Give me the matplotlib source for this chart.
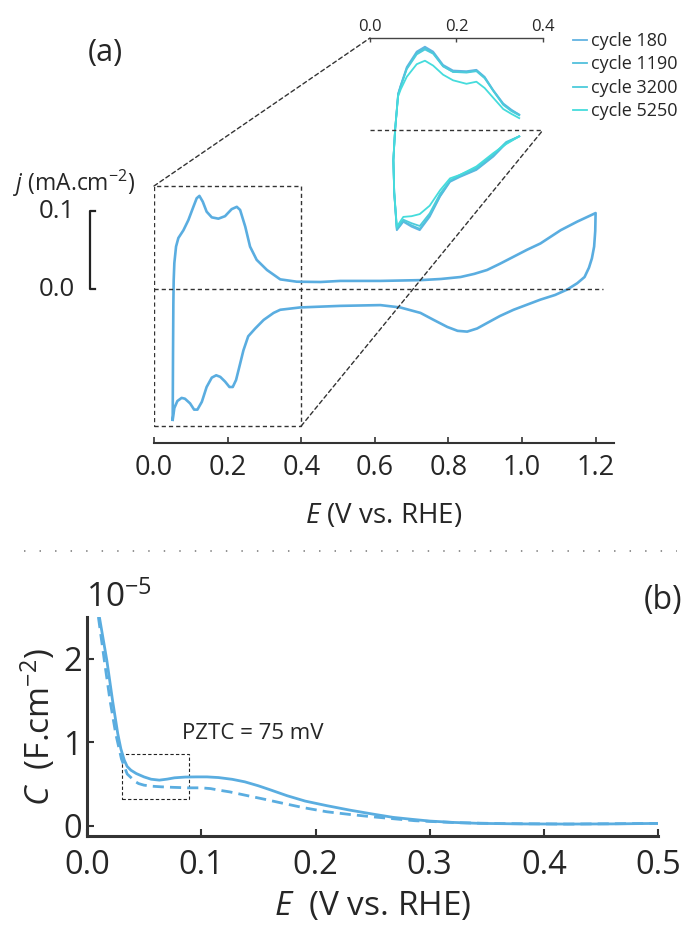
import matplotlib
matplotlib.use('Agg')
import matplotlib.pyplot as plt
from matplotlib.lines import Line2D
from matplotlib.patches import Rectangle, ConnectionPatch

plt.rcParams['font.family'] = ['Open Sans', 'DejaVu Sans']
plt.rcParams['mathtext.fontset'] = 'custom'
plt.rcParams['mathtext.rm'] = 'Open Sans'
plt.rcParams['mathtext.it'] = 'Open Sans:italic'
plt.rcParams['axes.unicode_minus'] = False

TXT = '#262626'
BLUE = '#5aade0'

# --- (a) CV, anodic sweep (V vs. RHE, mA cm^-2)
E_anodic = [0.0508, 0.0517, 0.0526, 0.0535, 0.0553, 0.0599, 0.0662, 0.080, 0.0934, 0.107,
            0.116, 0.1234, 0.1325, 0.143, 0.157, 0.175, 0.193, 0.211, 0.225, 0.234,
            0.248, 0.261, 0.279, 0.307, 0.343, 0.388, 0.452, 0.506, 0.615, 0.724,
            0.78, 0.833, 0.87, 0.905, 0.94, 0.977, 1.014, 1.05, 1.105, 1.15, 1.2]
j_anodic = [-0.167, -0.082, -0.018, 0.012, 0.034, 0.055, 0.066, 0.076, 0.089, 0.106,
            0.117, 0.120, 0.1126, 0.0998, 0.0925, 0.0908, 0.094, 0.103, 0.106, 0.102,
            0.0805, 0.055, 0.038, 0.025, 0.013, 0.010, 0.0096, 0.011, 0.011, 0.012,
            0.0135, 0.016, 0.020, 0.025, 0.033, 0.042, 0.051, 0.059, 0.076, 0.087, 0.098]
# cathodic sweep back down
E_cathodic = [1.199, 1.196, 1.19, 1.182, 1.17, 1.15, 1.123, 1.09, 1.05, 0.977,
              0.94, 0.905, 0.878, 0.851, 0.825, 0.797, 0.76, 0.724, 0.669, 0.615,
              0.506, 0.397, 0.343, 0.325, 0.298, 0.275, 0.256, 0.243, 0.232, 0.223,
              0.214, 0.205, 0.193, 0.180, 0.169, 0.157, 0.143, 0.130, 0.118, 0.109,
              0.098, 0.084, 0.075, 0.0635, 0.0553, 0.0508]
j_cathodic = [0.075, 0.055, 0.040, 0.028, 0.016, 0.008, 0.0, -0.007, -0.013, -0.026,
              -0.034, -0.043, -0.050, -0.054, -0.053, -0.048, -0.039, -0.030, -0.023, -0.020,
              -0.021, -0.023, -0.026, -0.030, -0.039, -0.050, -0.060, -0.078, -0.099, -0.116,
              -0.125, -0.125, -0.118, -0.112, -0.110, -0.113, -0.125, -0.144, -0.154, -0.154,
              -0.146, -0.140, -0.139, -0.143, -0.152, -0.167]

# --- inset: H_upd region for several cycles
cycle_labels = ['cycle 180', 'cycle 1190', 'cycle 3200', 'cycle 5250']
cycle_colors = ['#62b3e2', '#52c0dc', '#4ccbdb', '#45dcdc']
E_in_cath = [0.345, 0.315, 0.285, 0.246, 0.208, 0.185, 0.162, 0.138, 0.115, 0.096, 0.077, 0.062]
E_in_an = [0.062, 0.056, 0.054, 0.058, 0.065, 0.071, 0.085, 0.108, 0.127, 0.146,
           0.169, 0.192, 0.223, 0.246, 0.265, 0.285, 0.308, 0.327, 0.345]
j_in_cath = [
    [-0.009, -0.019, -0.038, -0.057, -0.067, -0.074, -0.095, -0.124, -0.143, -0.138, -0.131, -0.143],
    [-0.009, -0.018, -0.037, -0.056, -0.066, -0.073, -0.094, -0.122, -0.141, -0.136, -0.130, -0.142],
    [-0.009, -0.017, -0.035, -0.054, -0.064, -0.072, -0.091, -0.119, -0.137, -0.133, -0.128, -0.140],
    [-0.009, -0.020, -0.033, -0.052, -0.064, -0.069, -0.086, -0.108, -0.120, -0.123, -0.124, -0.138],
]
j_in_an = [
    [-0.143, -0.090, -0.043, 0.0, 0.052, 0.064, 0.090, 0.112, 0.119, 0.112,
     0.093, 0.085, 0.084, 0.086, 0.076, 0.057, 0.038, 0.029, 0.022],
    [-0.142, -0.090, -0.043, 0.0, 0.051, 0.063, 0.088, 0.110, 0.117, 0.110,
     0.091, 0.083, 0.083, 0.085, 0.075, 0.056, 0.037, 0.028, 0.022],
    [-0.140, -0.089, -0.043, 0.0, 0.050, 0.062, 0.087, 0.108, 0.115, 0.109,
     0.091, 0.083, 0.082, 0.084, 0.074, 0.056, 0.036, 0.027, 0.021],
    [-0.138, -0.088, -0.043, 0.0, 0.048, 0.058, 0.076, 0.094, 0.099, 0.092,
     0.079, 0.071, 0.066, 0.069, 0.060, 0.046, 0.030, 0.023, 0.017],
]

# --- (b) double-layer capacitance (units of 1e-5 F cm^-2)
E_cap = [0.0107, 0.0172, 0.0222, 0.0268, 0.0295, 0.0325, 0.035, 0.0383, 0.043, 0.0497,
         0.056, 0.0632, 0.070, 0.0765, 0.086, 0.0956, 0.105, 0.115, 0.127, 0.138,
         0.150, 0.161, 0.175, 0.191, 0.210, 0.2296, 0.250, 0.268, 0.285, 0.300,
         0.320, 0.344, 0.380, 0.421, 0.460, 0.501]
C_cap = [2.497, 1.98, 1.50, 1.10, 0.92, 0.785, 0.71, 0.665, 0.625, 0.585,
         0.557, 0.546, 0.558, 0.574, 0.583, 0.585, 0.585, 0.577, 0.556, 0.526,
         0.478, 0.427, 0.36, 0.295, 0.24, 0.188, 0.14, 0.10, 0.076, 0.056,
         0.04, 0.028, 0.022, 0.020, 0.022, 0.028]
E_cap2 = [0.0098, 0.0150, 0.0200, 0.0250, 0.0300, 0.0350, 0.0420, 0.045, 0.0497, 0.057,
          0.065, 0.075, 0.088, 0.0995, 0.108, 0.115, 0.125, 0.138, 0.155, 0.172,
          0.190, 0.210, 0.230, 0.249, 0.287, 0.325, 0.36, 0.421, 0.501]
C_cap2 = [2.5, 1.98, 1.50, 1.10, 0.80, 0.62, 0.53, 0.505, 0.486, 0.473,
          0.466, 0.46, 0.454, 0.454, 0.445, 0.427, 0.405, 0.367, 0.318, 0.267,
          0.215, 0.167, 0.135, 0.108, 0.06, 0.036, 0.026, 0.020, 0.028]
PZTC_BOX = (0.0306, 0.0888, 0.319, 0.857)

W, H = 683, 931
fig = plt.figure(figsize=(W / 100, H / 100), dpi=100)


def rect(left, top, right, bottom):
    return [left / W, 1 - bottom / H, (right - left) / W, (bottom - top) / H]


# ---------------- panel (a)
ax = fig.add_axes(rect(154, 170, 614, 443))
ax.plot(E_anodic + E_cathodic, j_anodic + j_cathodic, color=BLUE, lw=1.9,
        solid_joinstyle='round')
ax.set_xlim(0, 1.25)
ax.set_ylim(-0.1968, 0.1532)
for s in ['left', 'right', 'top']:
    ax.spines[s].set_visible(False)
ax.spines['bottom'].set_linewidth(1.5)
ax.spines['bottom'].set_color('#333333')
ax.set_yticks([])
ax.set_xticks([0.0, 0.2, 0.4, 0.6, 0.8, 1.0, 1.2])
ax.set_xticklabels(['0.0', '0.2', '0.4', '0.6', '0.8', '1.0', '1.2'])
ax.tick_params(axis='x', direction='in', length=4, width=1.2, color='#333333',
               labelsize=19.5, labelcolor=TXT, pad=8)
ax.set_xlabel(r'$E$ (V vs. RHE)', fontsize=20, color=TXT, labelpad=14)

dash = (0, (3, 2.2))
ax.axhline(0, xmin=0, xmax=1.22 / 1.25, color='#333333', lw=1, ls=dash)
ax.add_patch(Rectangle((0, -0.175), 0.4, 0.3077, fill=False, ec='#333333', lw=1, ls=dash))

# scale bar in place of a y axis
ax.plot([-0.160, -0.174, -0.174, -0.160], [0.1, 0.1, 0.0, 0.0], color='#222222', lw=1.6,
        clip_on=False)
ax.text(-0.265, 0.1, '0.1', fontsize=18.5, color=TXT, ha='center', va='center')
ax.text(-0.265, 0.0, '0.0', fontsize=18.5, color=TXT, ha='center', va='center')
fig.text(13 / W, 1 - 183 / H, r'$j$ (mA.cm$^{-2}$)', fontsize=16.5, color=TXT,
         ha='left', va='center')
fig.text(105 / W, 1 - 53 / H, '(a)', fontsize=22, color=TXT, ha='center', va='center')

# inset
axin = fig.add_axes(rect(370, 38, 543, 240))
for k in range(4):
    axin.plot(E_in_cath + E_in_an, j_in_cath[k] + j_in_an[k], color=cycle_colors[k], lw=1.3,
              label=cycle_labels[k])
axin.set_xlim(0, 0.4)
axin.set_ylim(-0.157, 0.1314)
axin.patch.set_visible(False)
for s in ['left', 'right', 'bottom']:
    axin.spines[s].set_visible(False)
axin.spines['top'].set_linewidth(1.0)
axin.spines['top'].set_color('#444444')
axin.set_yticks([])
axin.set_xticks([0.0, 0.2, 0.4])
axin.set_xticklabels(['0.0', '0.2', '0.4'])
axin.xaxis.tick_top()
axin.tick_params(axis='x', direction='in', length=3, width=1, color='#444444',
                 labelsize=12, labelcolor=TXT, pad=2)
axin.axhline(0, color='#333333', lw=1, ls=dash)

for xyA, xyB in [((0, 0.1327), (0, 0.1314)), ((0.4, -0.175), (0.4, 0.0))]:
    con = ConnectionPatch(xyA=xyA, coordsA=ax.transData, xyB=xyB, coordsB=axin.transData,
                          color='#333333', lw=1, ls=dash)
    fig.add_artist(con)

fig.legend(*axin.get_legend_handles_labels(), loc='upper left',
           bbox_to_anchor=(573 / W, 1 - 32 / H), frameon=False, fontsize=13,
           handlelength=0.75, handletextpad=0.25, labelspacing=0.3, borderpad=0,
           borderaxespad=0, labelcolor=TXT)

# separator between panels
fig.add_artist(Line2D([24 / W, 677 / W], [1 - 551 / H, 1 - 551 / H], transform=fig.transFigure,
                      color='#8a8a8a', lw=1.3, ls=(0, (0.8, 7.8))))

# ---------------- panel (b)
bx = fig.add_axes(rect(87.2, 617, 658, 836))
bx.plot(E_cap, C_cap, color=BLUE, lw=2.0, solid_joinstyle='round')
bx.plot(E_cap2, C_cap2, color=BLUE, lw=2.0, ls=(0, (4, 2.2)))
bx.set_xlim(0, 0.5)
bx.set_ylim(-0.123, 2.5)
for s in ['right', 'top']:
    bx.spines[s].set_visible(False)
for s in ['left', 'bottom']:
    bx.spines[s].set_linewidth(2.2)
    bx.spines[s].set_color('#333333')
bx.set_xticks([0.0, 0.1, 0.2, 0.3, 0.4, 0.5])
bx.set_xticklabels(['0.0', '0.1', '0.2', '0.3', '0.4', '0.5'])
bx.set_yticks([0, 1, 2])
bx.set_yticklabels(['0', '1', '2'])
bx.tick_params(direction='in', length=5, width=1.5, color='#333333', labelsize=23.5,
               labelcolor=TXT)
bx.tick_params(axis='x', pad=9)
bx.tick_params(axis='y', pad=4)
bx.set_xlabel(r'$E$  (V vs. RHE)', fontsize=24, color=TXT, labelpad=6)
bx.set_ylabel(r'$C$  (F.cm$^{-2}$)', fontsize=24, color=TXT, labelpad=4)
x0, x1, y0, y1 = PZTC_BOX
bx.add_patch(Rectangle((x0, y0), x1 - x0, y1 - y0, fill=False, ec='#222222', lw=0.8,
                       ls=(0, (3, 2))))
bx.text(0.083, 1.1, 'PZTC = 75 mV', fontsize=16, color=TXT, ha='left', va='center')
fig.text(86 / W, 1 - 607 / H, r'10$^{-5}$', fontsize=24, color=TXT, ha='left', va='baseline')
fig.text(682 / W, 1 - 601 / H, '(b)', fontsize=23, color=TXT, ha='right', va='center')

fig.savefig('out.png', dpi=100)
